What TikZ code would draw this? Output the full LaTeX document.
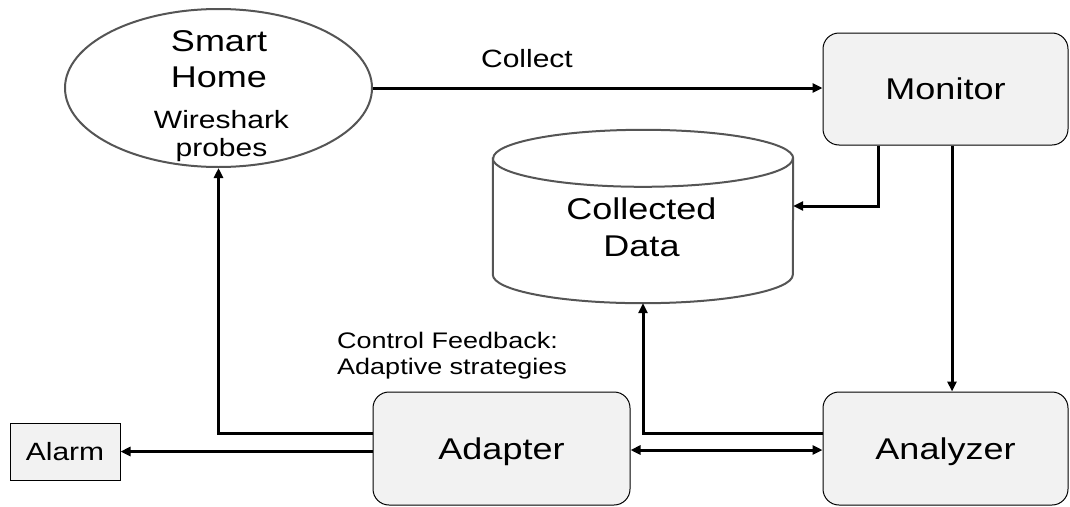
\documentclass[tikz,border=0pt]{standalone}
\usepackage{fontspec}
\setmainfont{Liberation Sans}[FakeStretch=1.2]
\usetikzlibrary{arrows.meta,shapes.geometric}

\definecolor{boxfill}{HTML}{F2F2F2}
\definecolor{rimgray}{HTML}{555555}

\newcommand\bigfont{\fontsize{30}{36.5}\selectfont}
\newcommand\midfont{\fontsize{25}{28}\selectfont}
\newcommand\ctlfont{\fontsize{22.5}{26}\selectfont}

\tikzset{
  proc/.style={draw=black, line width=1pt, fill=boxfill, rounded corners=16pt,
    inner sep=0pt, font=\bigfont, text height=21.5pt, text depth=0pt},
  alarmbox/.style={draw=black, line width=1pt, fill=boxfill, inner sep=0pt,
    font=\midfont, text height=18pt, text depth=0pt},
  rim/.style={draw=rimgray, line width=2pt},
  tip/.tip={Triangle[length=10pt,width=9pt]},
  conn/.style={line width=3pt, -tip},
  label/.style={inner sep=0pt, align=center}
}

\begin{document}
\begin{tikzpicture}[x=1pt,y=-1pt]
\useasboundingbox (0,0) rectangle (1070,506);

% process boxes
\node[proc, minimum width=245pt, minimum height=112pt] (monitor) at (945.5,89) {Monitor};
\node[proc, minimum width=245pt, minimum height=113pt] (analyzer) at (945.5,448.5) {Analyzer};
\node[proc, minimum width=257pt, minimum height=113pt] (adapter) at (501.5,448.5) {Adapter};
\node[alarmbox, minimum width=110pt, minimum height=57pt] (alarm) at (65,451.5) {Alarm};

% the monitored home
\node[ellipse, rim, fill=white, minimum width=307pt, minimum height=158pt, inner sep=0pt] (home) at (218.5,88) {};
\node[label, font=\bigfont] (hometitle) at (219,59) {Smart\\Home};
\node[label, font=\midfont] (homeprobe) at (221.5,136.5) {Wireshark\\probes};

% data store (cylinder)
\node[minimum width=300pt, minimum height=173pt, inner sep=0pt] (db) at (643,216.5) {};
\draw[rim, fill=white] ([yshift=-28.5pt]db.north west) -- ([yshift=28.5pt]db.south west)
  arc[start angle=180, end angle=360, x radius=150pt, y radius=28.5pt]
  -- ([yshift=-28.5pt]db.north east)
  arc[start angle=0, end angle=180, x radius=150pt, y radius=28.5pt] -- cycle;
\draw[rim] ([yshift=-28.5pt]db.north west)
  arc[start angle=180, end angle=360, x radius=150pt, y radius=28.5pt];
\node[label, font=\bigfont] (dbtext) at (641.5,227.5) {Collected\\Data};

% connectors
\draw[conn] (home.east) -- (home.east -| monitor.west);
\node[label, font=\midfont] (collect) at (527,59) {Collect};
\draw[conn] ([xshift=-67.5pt]monitor.south) |- ([yshift=10.5pt]db.east);
\draw[conn] ([xshift=6.5pt]monitor.south) -- ([xshift=6.5pt]analyzer.north);
\draw[conn] ([yshift=15.5pt]analyzer.west) -| (db.south);
\draw[conn, tip-tip] ([yshift=-1.5pt]adapter.east) -- ([yshift=-1.5pt]analyzer.west);
\draw[conn] ([yshift=15.5pt]adapter.west) -| (home.south);
\draw[conn] (adapter.west |- alarm.east) -- (alarm.east);

\node[inner sep=0pt, align=left, anchor=west, font=\ctlfont] (ctl) at (337,356)
  {Control Feedback:\\Adaptive strategies};
\end{tikzpicture}
\end{document}
